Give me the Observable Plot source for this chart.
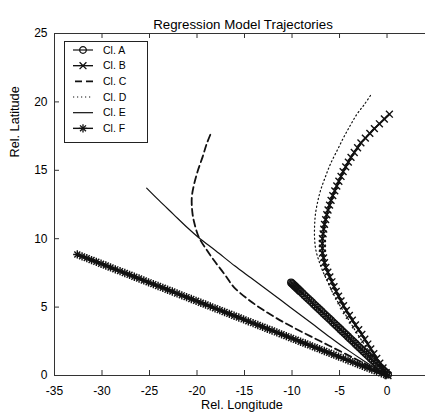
<!DOCTYPE html>
<html><head><meta charset="utf-8">
<script src="https://cdn.jsdelivr.net/npm/d3@7"></script>
<script src="https://cdn.jsdelivr.net/npm/@observablehq/plot@0.6"></script>
<style>html,body{margin:0;padding:0;background:#fff;overflow:hidden}</style>
</head><body><div id="chart"></div>
<script>
// ---- data ----
const seriesNames = ["Cl. A", "Cl. B", "Cl. C", "Cl. D", "Cl. E", "Cl. F"];
const titleText = "Regression Model Trajectories";
const xLabelText = "Rel. Longitude";
const yLabelText = "Rel. Latitude";
const xTicks = [-35, -30, -25, -20, -15, -10, -5, 0];
const yTicks = [0, 5, 10, 15, 20, 25];

const aX = [-10.1,-10.0,-9.9,-9.8,-9.7,-9.6,-9.5,-9.4,-9.3,-9.2,-9.1,-8.9,-8.7,-8.5,-8.3,-8.1,-7.9,-7.7,-7.5,-7.3,-7.1,-6.9,-6.7,-6.5,-6.3,-6.1,-5.9,-5.7,-5.5,-5.3,-5.1,-4.9,-4.7,-4.5,-4.3,-4.1,-3.9,-3.7,-3.5,-3.3,-3.1,-2.9,-2.7,-2.5,-2.3,-2.1,-1.9,-1.7,-1.5,-1.3,-1.1,-0.9,-0.7,-0.5,-0.3,-0.1,0.1];
const aY = [6.80,6.73,6.67,6.60,6.53,6.47,6.40,6.34,6.27,6.20,6.14,6.01,5.87,5.74,5.61,5.48,5.35,5.21,5.08,4.95,4.82,4.69,4.55,4.42,4.29,4.16,4.03,3.89,3.76,3.63,3.50,3.37,3.23,3.10,2.97,2.84,2.71,2.57,2.44,2.31,2.18,2.05,1.91,1.78,1.65,1.52,1.39,1.25,1.12,0.99,0.86,0.73,0.59,0.46,0.33,0.20,0.07];

const bX = [0.25,-0.28,-0.80,-1.33,-1.81,-2.28,-2.75,-3.10,-3.45,-3.79,-4.07,-4.35,-4.62,-4.84,-5.07,-5.29,-5.50,-5.71,-5.89,-6.05,-6.21,-6.34,-6.46,-6.58,-6.66,-6.73,-6.80,-6.81,-6.80,-6.79,-6.68,-6.58,-6.44,-6.23,-6.02,-5.80,-5.58,-5.35,-5.10,-4.84,-4.58,-4.28,-3.96,-3.65,-3.32,-2.98,-2.65,-2.34,-2.02,-1.71,-1.39,-1.08,-0.76,-0.42,-0.09,0.1];
const bY = [19.1,18.75,18.4,18.05,17.7,17.35,17.0,16.65,16.3,15.95,15.6,15.25,14.9,14.55,14.2,13.85,13.5,13.15,12.8,12.45,12.1,11.75,11.4,11.05,10.7,10.35,10.0,9.65,9.3,8.95,8.6,8.25,7.9,7.55,7.2,6.85,6.5,6.15,5.8,5.45,5.1,4.75,4.4,4.05,3.7,3.35,3.0,2.65,2.3,1.95,1.6,1.25,0.9,0.55,0.2,0.0];

const cX = [-18.6,-19.0,-19.4,-19.9,-20.3,-20.55,-20.5,-20.3,-19.8,-19.0,-18.2,-17.1,-16.1,-14.4,-12.6,-10.9,-9.0,-7.0,-5.0,-3.0,-1.5,0.1];
const cY = [17.6,16.9,16.0,15.0,14.0,13.0,12.0,11.2,10.1,9.2,8.4,7.4,6.45,5.45,4.6,3.9,3.2,2.5,1.8,1.1,0.55,0.0];

const dX = [-1.74,-2.4,-3.14,-3.85,-4.55,-5.25,-5.95,-6.5,-7.0,-7.3,-7.53,-7.62,-7.63,-7.5,-7.18,-6.75,-6.3,-5.75,-5.2,-4.5,-3.8,-2.9,-2.0,-1.1,-0.3,0.1];
const dY = [20.47,19.8,19.13,18.3,17.42,16.45,15.47,14.5,13.52,12.7,11.82,11.0,10.11,9.2,8.41,7.6,6.94,6.1,5.4,4.6,3.8,2.8,1.9,1.0,0.25,0.0];

const eX = [-25.3,-24.0,-22.5,-21.0,-19.84,-18.0,-16.0,-14.37,-12.5,-10.16,-8.0,-6.0,-4.0,-2.5,-1.0,0.2];
const eY = [13.7,12.8,11.8,10.8,10.09,9.1,8.0,7.16,6.2,4.97,3.85,2.8,1.8,1.1,0.45,0.0];

const fX = [-32.6,-32.1,-31.6,-31.1,-30.6,-30.1,-29.6,-29.1,-28.6,-28.1,-27.6,-27.1,-26.6,-26.1,-25.6,-25.1,-24.6,-24.1,-23.6,-23.1,-22.6,-22.1,-21.6,-21.1,-20.6,-20.1,-19.6,-19.1,-18.6,-18.1,-17.6,-17.1,-16.6,-16.1,-15.6,-15.1,-14.6,-14.1,-13.6,-13.1,-12.6,-12.1,-11.6,-11.1,-10.6,-10.1,-9.6,-9.1,-8.6,-8.1,-7.6,-7.1,-6.6,-6.1,-5.6,-5.1,-4.6,-4.1,-3.6,-3.1,-2.6,-2.1,-1.6,-1.1,-0.6,-0.1];
const fY = [8.85,8.71,8.58,8.44,8.31,8.17,8.04,7.90,7.76,7.63,7.49,7.36,7.22,7.09,6.95,6.81,6.68,6.54,6.41,6.27,6.14,6.00,5.86,5.73,5.59,5.46,5.32,5.19,5.05,4.91,4.78,4.64,4.51,4.37,4.24,4.10,3.96,3.83,3.69,3.56,3.42,3.29,3.15,3.01,2.88,2.74,2.61,2.47,2.34,2.20,2.06,1.93,1.79,1.66,1.52,1.38,1.25,1.11,0.98,0.84,0.71,0.57,0.43,0.30,0.16,0.03];

// ---- build tables ----
const rows = (xs, ys) => xs.map((x, i) => ({x, y: ys[i]}));
const A = rows(aX, aY), B = rows(bX, bY), C = rows(cX, cY), D = rows(dX, dY), E = rows(eX, eY), F = rows(fX, fY);

// ---- layout & style ----
const W = 425, H = 414, mT = 33, mB = 39, mL = 54, mR = 0;
const frameH = H - mT - mB, frameW = W - mL - mR;
const axisColor = "#333";
const font = "'Liberation Sans', Arial, Helvetica, sans-serif";
const fmt = d => String(d);
const ink = "#111";

const chart = Plot.plot({
  width: W, height: H,
  marginTop: mT, marginBottom: mB, marginLeft: mL, marginRight: mR,
  style: {fontFamily: font, fontSize: "12px", color: "#000", background: "#fff", overflow: "visible"},
  x: {domain: [-35, 4.05]},
  y: {domain: [0, 25]},
  marks: [
    Plot.axisX(xTicks, {tickSize: 0, tickPadding: 11, label: null, tickFormat: fmt, fontSize: 12}),
    Plot.axisY(yTicks, {tickSize: 0, tickPadding: 7, label: null, tickFormat: fmt, fontSize: 12}),
    Plot.tickX(xTicks, {x: d => d, insetTop: frameH - 5, stroke: axisColor}),
    Plot.tickX(xTicks, {x: d => d, insetBottom: frameH - 5, stroke: axisColor}),
    Plot.tickY(yTicks, {y: d => d, insetRight: frameW - 5, stroke: axisColor}),
    Plot.ruleY([0, 25], {stroke: axisColor}),
    Plot.ruleX([-35], {stroke: axisColor}),
    // Cl. F  (asterisk)
    Plot.line(F, {x: "x", y: "y", stroke: ink, strokeWidth: 2}),
    Plot.dot(F, {x: "x", y: "y", symbol: "plus", r: 2.8, stroke: ink, fill: "none", strokeWidth: 1.4}),
    Plot.dot(F, {x: "x", y: "y", symbol: "times", r: 2.8, stroke: ink, fill: "none", strokeWidth: 1.4}),
    // Cl. E  (solid)
    Plot.line(E, {x: "x", y: "y", stroke: ink, strokeWidth: 1.2, curve: "catmull-rom"}),
    // Cl. C  (dashed)
    Plot.line(C, {x: "x", y: "y", stroke: ink, strokeWidth: 1.8, strokeDasharray: "7,4", curve: "catmull-rom"}),
    // Cl. D  (dotted)
    Plot.line(D, {x: "x", y: "y", stroke: ink, strokeWidth: 1.2, strokeDasharray: "1.2,2.8", curve: "catmull-rom"}),
    // Cl. A  (circles)
    Plot.line(A, {x: "x", y: "y", stroke: ink, strokeWidth: 1.5}),
    Plot.dot(A, {x: "x", y: "y", symbol: "circle", r: 3.4, stroke: ink, fill: "none", strokeWidth: 1.3}),
    // Cl. B  (times)
    Plot.line(B, {x: "x", y: "y", stroke: ink, strokeWidth: 2, curve: "catmull-rom"}),
    Plot.dot(B, {x: "x", y: "y", symbol: "times", r: 3.2, stroke: ink, fill: "none", strokeWidth: 1.4}),
    // texts
    Plot.text([titleText], {frameAnchor: "top", dx: 3, dy: -14, fontSize: 13.3, fill: "#000"}),
    Plot.text([xLabelText], {frameAnchor: "bottom", dx: 2, dy: 33, fontSize: 12.7, fill: "#000"}),
    Plot.text([yLabelText], {frameAnchor: "left", rotate: -90, dx: -40, dy: -47, fontSize: 12.7, fill: "#000"})
  ]
});
document.getElementById("chart").appendChild(chart);

// ---- legend ----
const legendStyle = {
  "Cl. A": {symbol: d3.symbolCircle, r: 3.3, dash: null, w: 1.2},
  "Cl. B": {symbol: d3.symbolTimes, r: 3.2, dash: null, w: 1.4},
  "Cl. C": {symbol: null, dash: "7,4", w: 1.7},
  "Cl. D": {symbol: null, dash: "1.2,2.8", w: 1.2},
  "Cl. E": {symbol: null, dash: null, w: 1.2},
  "Cl. F": {symbol: "star8", r: 2.8, dash: null, w: 1.4}
};
const lg = d3.select(chart).append("g").attr("font-family", font).attr("font-size", 10.5)
  .attr("text-anchor", "start");
lg.append("rect").attr("x", 64.5).attr("y", 41.5).attr("width", 83).attr("height", 101)
  .attr("fill", "#fff").attr("stroke", "#222");
seriesNames.forEach((name, i) => {
  const st = legendStyle[name];
  const y = 50 + i * 15.67;
  const x1 = name === "Cl. C" ? 75 : 73;
  lg.append("line").attr("x1", x1).attr("x2", 93).attr("y1", y).attr("y2", y)
    .attr("stroke", ink).attr("stroke-width", st.w).attr("stroke-dasharray", st.dash);
  const addSym = (s, r) => lg.append("path").attr("transform", `translate(83,${y})`)
      .attr("d", d3.symbol(s, Math.PI * r * r)()).attr("fill", "none").attr("stroke", ink).attr("stroke-width", 1.3);
  if (st.symbol === "star8") { addSym(d3.symbolPlus, st.r); addSym(d3.symbolTimes, st.r); }
  else if (st.symbol) addSym(st.symbol, st.r);
  lg.append("text").attr("x", 103).attr("y", y).attr("dy", "0.35em").attr("fill", "#000").text(name);
});
</script>
</body></html>
